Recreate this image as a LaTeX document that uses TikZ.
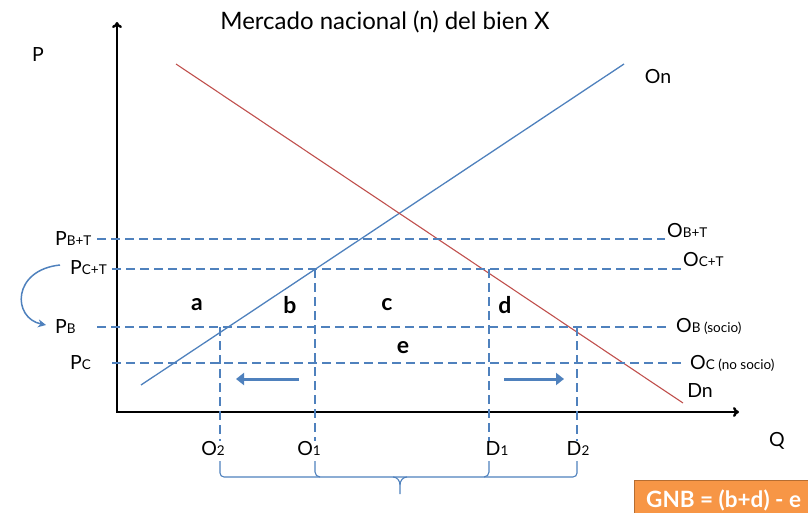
\documentclass[tikz,border=0pt]{standalone}
\usepackage{fontspec}
\setmainfont{Lato}
\usetikzlibrary{positioning,arrows.meta}
\definecolor{ofblue}{HTML}{4F81BD}
\definecolor{ofred}{HTML}{C0504D}
\definecolor{oforange}{HTML}{F79646}
\definecolor{ofbrown}{HTML}{B66D31}
\newcommand{\subl}[1]{{\fontsize{13.5}{13.5}\selectfont #1}}

\begin{document}
\begin{tikzpicture}[x=1pt, y=-1pt,
    every node/.style={inner sep=1pt},
    lbl/.style={font=\fontsize{19.5}{19.5}\selectfont},
    ttl/.style={font=\fontsize{24}{24}\selectfont},
    area/.style={font=\fontsize{23}{23}\selectfont\bfseries},
    axis/.style={line width=2.4pt, {To[length=6pt,width=10pt]}-{To[length=6pt,width=10pt]}},
    dline/.style={ofblue, line width=1.2pt, dash pattern=on 9pt off 5pt},
    supply/.style={ofblue, line width=1.3pt},
    demand/.style={ofred, line width=1.1pt},
    moveline/.style={ofblue, line width=3pt, -{Triangle[length=8pt,width=12pt]}},
    curv/.style={ofblue, line width=1.5pt, -{Stealth[length=8pt,width=8pt]}},
    brc/.style={ofblue, line width=1.1pt},
    gnb/.style={fill=oforange, draw=ofbrown, line width=1.2pt, text=white,
        font=\fontsize{22.5}{22.5}\selectfont\bfseries, minimum width=178pt, minimum height=40pt}]

    \useasboundingbox (0,0) rectangle (808,513);

    % axes
    \coordinate (ytop) at (117,22);
    \coordinate (xend) at (739,412);
    \draw[axis] (ytop) |- (xend);
    \node[ttl] (title) at (385,22) {Mercado nacional (n) del bien X};
    \node[lbl] (plab) at (38,55) {P};
    \node[lbl] (qlab) at (777,441) {Q};

    % supply and demand
    \coordinate (s0) at (141,385);
    \coordinate (s1) at (624,64);
    \coordinate (d0) at (176,64);
    \coordinate (d1) at (683,403);
    \draw[supply] (s0) -- (s1);
    \draw[demand] (d0) -- (d1);
    \node[lbl] (on) at (658,77) {On};
    \node[lbl] (dn) at (700,391) {Dn};

    % price levels
    \node[lbl, anchor=west] (pbt) at (54,239) {P\subl{B+T}};
    \node[lbl, anchor=west] (pct) at (69,268) {P\subl{C+T}};
    \node[lbl, anchor=west] (pb) at (54,327) {P\subl{B}};
    \node[lbl, anchor=west] (pc) at (69,363) {P\subl{C}};

    \node[lbl, anchor=west] (obt) at (666,231) {O\subl{B+T}};
    \node[lbl, anchor=west] (oct) at (682,260) {O\subl{C+T}};
    \node[lbl, anchor=west] (ob) at (675,326) {O\subl{B (socio)}};
    \node[lbl, anchor=west] (oc) at (689,363) {O\subl{C (no socio)}};

    \coordinate (pbt0) at (97,239);
    \coordinate (pbt1) at (665,239);
    \coordinate (pct0) at (112,269);
    \coordinate (pct1) at (681,269);
    \coordinate (pb0) at (97,327);
    \coordinate (pb1) at (666,327);
    \coordinate (pc0) at (112,363);
    \coordinate (pc1) at (681,363);
    \draw[dline] (pbt0) -- (pbt1);
    \draw[dline] (pct0) -- (pct1);
    \draw[dline] (pb0) -- (pb1);
    \draw[dline] (pc0) -- (pc1);

    % quantities
    \node[lbl] (qo2) at (213,449) {O\subl{2}};
    \node[lbl] (qo1) at (309,449) {O\subl{1}};
    \node[lbl] (qd1) at (497,449) {D\subl{1}};
    \node[lbl] (qd2) at (578,449) {D\subl{2}};

    \coordinate (vo2) at (220,327);
    \coordinate (vo1) at (315,269);
    \coordinate (vd1) at (489,269);
    \coordinate (vd2) at (577,327);
    \draw[dline] (vo2) -- (220,441);
    \draw[dline] (vo1) -- (315,441);
    \draw[dline] (vd1) -- (489,441);
    \draw[dline] (vd2) -- (577,441);

    % areas
    \node[area] (ra) at (197,305) {a};
    \node[area] (rb) at (290,305) {b};
    \node[area] (rc) at (387,305) {c};
    \node[area] (rd) at (505,305) {d};
    \node[area] (re) at (403,348) {e};

    % shifts
    \coordinate (la0) at (299,379);
    \coordinate (la1) at (236,379);
    \coordinate (ra0) at (504,379);
    \coordinate (ra1) at (564,379);
    \draw[moveline] (la0) -- (la1);
    \draw[moveline] (ra0) -- (ra1);

    \coordinate (cv0) at (60,265);
    \coordinate (cv1) at (46,325);
    \draw[curv] (cv0) .. controls (12,270) and (12,318) .. (cv1);

    % brace
    \draw[brc, rounded corners=4pt] (220,461) -- (220,477) -- (577,477) -- (577,461);
    \draw[brc] (315,461) -- (315,472) to[out=-90, in=180] (320,477);
    \draw[brc] (489,461) -- (489,472) to[out=-90, in=0] (484,477);
    \draw[brc] (393,477) to[out=0, in=90] (400,485) -- (400,494);
    \draw[brc] (407,477) to[out=180, in=90] (400,485);

    \node[gnb, anchor=north west] (gnbbox) at (634,480) {GNB = (b+d) - e};
\end{tikzpicture}
\end{document}
